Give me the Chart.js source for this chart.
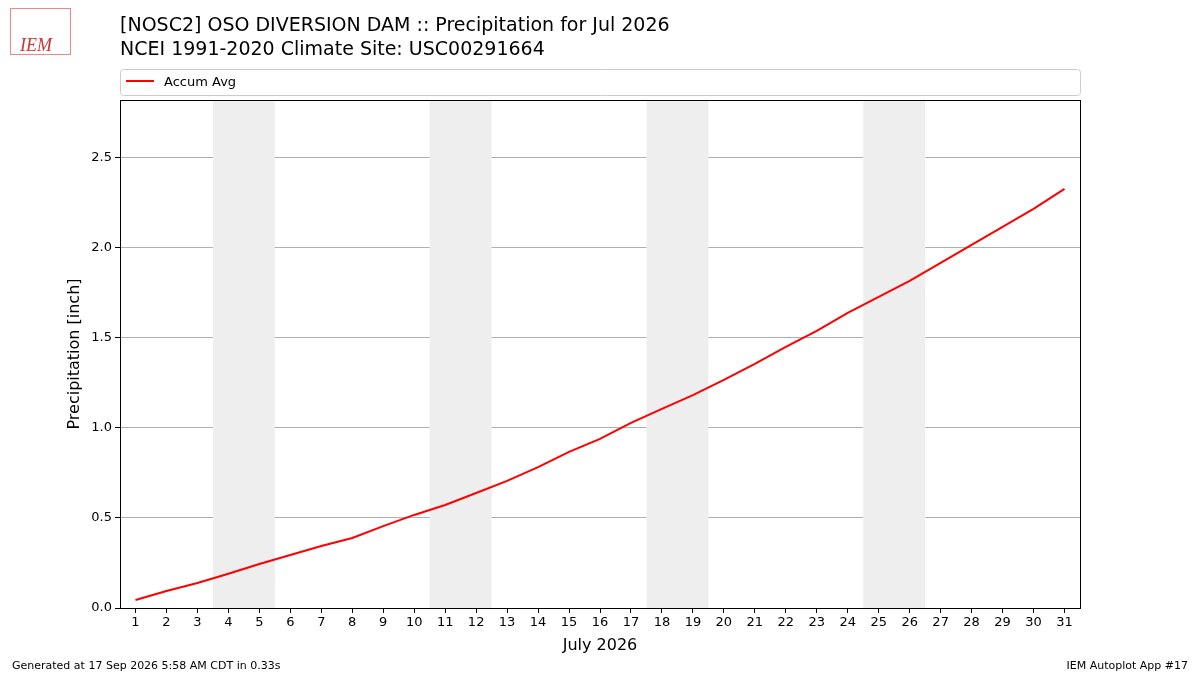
<!DOCTYPE html>
<html><head><meta charset="utf-8">
<script src="https://cdn.jsdelivr.net/npm/chart.js@4"></script>
<style>body{margin:0;background:#fff}#w{width:1200px;height:675px;position:relative}</style>
</head><body><div id="w"><canvas id="c" width="1200" height="675"></canvas></div>
<script>
const days = [1,2,3,4,5,6,7,8,9,10,11,12,13,14,15,16,17,18,19,20,21,22,23,24,25,26,27,28,29,30,31];
const accumAvg = [0.044,0.094,0.139,0.19,0.244,0.294,0.344,0.389,0.455,0.517,0.572,0.639,0.706,0.783,0.867,0.939,1.028,1.106,1.183,1.267,1.356,1.45,1.539,1.639,1.728,1.817,1.917,2.017,2.117,2.217,2.328];
const weekends = [[3.5,5.5],[10.5,12.5],[17.5,19.5],[24.5,26.5]];
const yTicks = [0,0.5,1.0,1.5,2.0,2.5];
const F = "DejaVu Sans";
const deco = {
  id:'deco',
  beforeDatasetsDraw(ch){
    const {ctx,chartArea:a,scales:{x}}=ch;
    ctx.save();ctx.fillStyle='#eeeeee';
    weekends.forEach(([s,e])=>{const x0=x.getPixelForValue(s),x1=x.getPixelForValue(e);ctx.fillRect(x0,a.top,x1-x0,a.bottom-a.top);});
    ctx.restore();
  },
  afterDraw(ch){
    const {ctx,chartArea:a}=ch;
    ctx.save();
    ctx.strokeStyle='#000';ctx.lineWidth=1;ctx.strokeRect(a.left+0.5,a.top+0.5,a.right-a.left,a.bottom-a.top);
    ctx.fillStyle='#000';ctx.textBaseline='alphabetic';
    ctx.font=`19px ${F}`;
    ctx.fillText('[NOSC2] OSO DIVERSION DAM :: Precipitation for Jul 2026',120,31);
    ctx.fillText('NCEI 1991-2020 Climate Site: USC00291664',120,55);
    ctx.font=`16px ${F}`;ctx.textAlign='center';
    ctx.fillText('July 2026',(a.left+a.right)/2,650);
    ctx.save();ctx.translate(79,(a.top+a.bottom)/2);ctx.rotate(-Math.PI/2);ctx.fillText('Precipitation [inch]',0,0);ctx.restore();
    ctx.textAlign='left';
    ctx.strokeStyle='#cccccc';ctx.beginPath();ctx.roundRect(120.5,69.5,960,26,3);ctx.stroke();
    ctx.strokeStyle='red';ctx.lineWidth=2;ctx.beginPath();ctx.moveTo(126,81);ctx.lineTo(154,81);ctx.stroke();
    ctx.font=`13px ${F}`;ctx.fillText('Accum Avg',164,86);
    ctx.font=`11px ${F}`;ctx.fillText('Generated at 17 Sep 2026 5:58 AM CDT in 0.33s',12,669);
    ctx.textAlign='right';ctx.fillText('IEM Autoplot App #17',1188,669);
    ctx.textAlign='left';ctx.fillStyle='#c33';ctx.font=`italic 18px Liberation Serif`;ctx.fillText('IEM',20,51);
    ctx.strokeStyle='#e88';ctx.lineWidth=1;ctx.strokeRect(10.5,8.5,60,46);
    ctx.restore();
  }
};
new Chart(document.getElementById('c'),{
  type:'line',
  data:{datasets:[{label:'Accum Avg',data:days.map((d,i)=>({x:d,y:accumAvg[i]})),borderColor:'red',borderWidth:2,pointRadius:0,tension:0}]},
  options:{responsive:false,animation:false,
    layout:{padding:{top:100,right:120,left:0,bottom:0}},
    plugins:{legend:{display:false},title:{display:false},tooltip:{enabled:false}},
    scales:{
      x:{type:'linear',min:0.5,max:31.5,afterFit(s){s.height=67;},
        afterBuildTicks(s){s.ticks=days.map(v=>({value:v}));},
        grid:{display:true,drawOnChartArea:false,tickLength:5,color:'#000'},border:{display:false},
        ticks:{color:'#000',font:{family:F,size:13},maxRotation:0,autoSkip:false,padding:2}},
      y:{min:0,max:2.822,afterFit(s){s.width=120;},
        afterBuildTicks(s){s.ticks=yTicks.map(v=>({value:v}));},
        grid:{color:'#b0b0b0',tickLength:5,tickColor:'#000'},border:{display:false},
        ticks:{color:'#000',font:{family:F,size:13},callback:v=>v.toFixed(1),padding:3}}
    }},
  plugins:[deco]
});
</script></body></html>
